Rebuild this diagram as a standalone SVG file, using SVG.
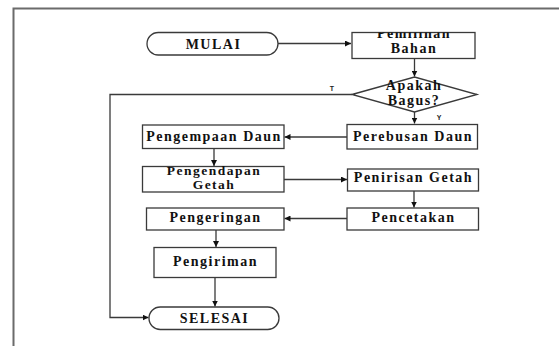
<svg xmlns="http://www.w3.org/2000/svg" width="559" height="346" viewBox="0 0 559 346">
<style>
.box{fill:#fff;stroke:#3a3a3a;stroke-width:1.3}
.t{font-family:"Liberation Serif","Times New Roman",serif;font-weight:bold;font-size:14px;letter-spacing:1.5px;fill:#111;text-anchor:middle}
.t2{font-size:13.5px}
.c{fill:none;stroke:#3a3a3a;stroke-width:1.3}
.lbl{font-family:"Liberation Sans",Arial,sans-serif;font-weight:bold;font-size:7px;fill:#222;text-anchor:middle}
</style>
<defs>
<marker id="ah" viewBox="0 0 10 10" refX="10" refY="5" markerWidth="6" markerHeight="6" markerUnits="userSpaceOnUse" orient="auto">
<path d="M0,0 L10,5 L0,10 z" fill="#111"/>
</marker>
<clipPath id="cpPem"><rect x="352" y="32.5" width="123" height="26"/></clipPath>
</defs>
<rect width="559" height="346" fill="#fff"/>
<path d="M13.5,346 V8.5 H559" fill="none" stroke="#6b6b6b" stroke-width="2"/>

<g id="connectors">
<path class="c" d="M278,43.5 H351" marker-end="url(#ah)"/>
<path class="c" d="M414.5,58.5 V76.5" marker-end="url(#ah)"/>
<path class="c" d="M414.5,112 V123.5" marker-end="url(#ah)"/>
<path class="c" d="M352,94.5 H110 V317.5 H148.5" marker-end="url(#ah)"/>
<path class="c" d="M347,137 H284.5" marker-end="url(#ah)"/>
<path class="c" d="M214,148.5 V166" marker-end="url(#ah)"/>
<path class="c" d="M284,179.5 H347" marker-end="url(#ah)"/>
<path class="c" d="M414,191 V207.5" marker-end="url(#ah)"/>
<path class="c" d="M347,218.5 H284.5" marker-end="url(#ah)"/>
<path class="c" d="M216,230 V247" marker-end="url(#ah)"/>
<path class="c" d="M215,278 V306.5" marker-end="url(#ah)"/>
<text class="lbl" x="332" y="90.5">T</text>
<text class="lbl" x="439" y="120">Y</text>
</g>

<g id="mulai">
<rect class="box" x="147" y="32.5" width="131" height="22.5" rx="11.25"/>
<text class="t" x="213.5" y="48.5">MULAI</text>
</g>

<g id="pemilihan">
<rect class="box" x="352" y="32.5" width="123" height="26"/>
<g clip-path="url(#cpPem)">
<text class="t" x="414" y="38.3">Pemilihan</text>
</g>
<text class="t" x="414" y="53.3">Bahan</text>
</g>

<g id="apakah">
<polygon class="box" points="352,94.5 414.5,77 477,94.5 414.5,112"/>
<text class="t" x="414" y="90">Apakah</text>
<text class="t" x="414" y="105">Bagus?</text>
</g>

<g id="perebusan">
<rect class="box" x="347" y="124.5" width="130.5" height="24.5"/>
<text class="t" x="413" y="141">Perebusan Daun</text>
</g>

<g id="pengempaan">
<rect class="box" x="142.5" y="125" width="141.5" height="23.5"/>
<text class="t" x="214" y="141">Pengempaan Daun</text>
</g>

<g id="pengendapan">
<rect class="box" x="142.5" y="166.5" width="141.5" height="25.5"/>
<text class="t t2" x="214" y="174.5">Pengendapan</text>
<text class="t t2" x="214" y="188.5">Getah</text>
</g>

<g id="penirisan">
<rect class="box" x="347.5" y="169" width="131" height="22"/>
<text class="t" x="413.5" y="182">Penirisan Getah</text>
</g>

<g id="pencetakan">
<rect class="box" x="347" y="208" width="131.5" height="22"/>
<text class="t" x="413.5" y="222">Pencetakan</text>
</g>

<g id="pengeringan">
<rect class="box" x="146.5" y="208" width="137.5" height="22"/>
<text class="t" x="215.5" y="222">Pengeringan</text>
</g>

<g id="pengiriman">
<rect class="box" x="154" y="247.5" width="122" height="30"/>
<text class="t" x="215.5" y="266">Pengiriman</text>
</g>

<g id="selesai">
<rect class="box" x="149" y="307" width="130" height="22.5" rx="11.25"/>
<text class="t" x="214.5" y="323">SELESAI</text>
</g>
</svg>
